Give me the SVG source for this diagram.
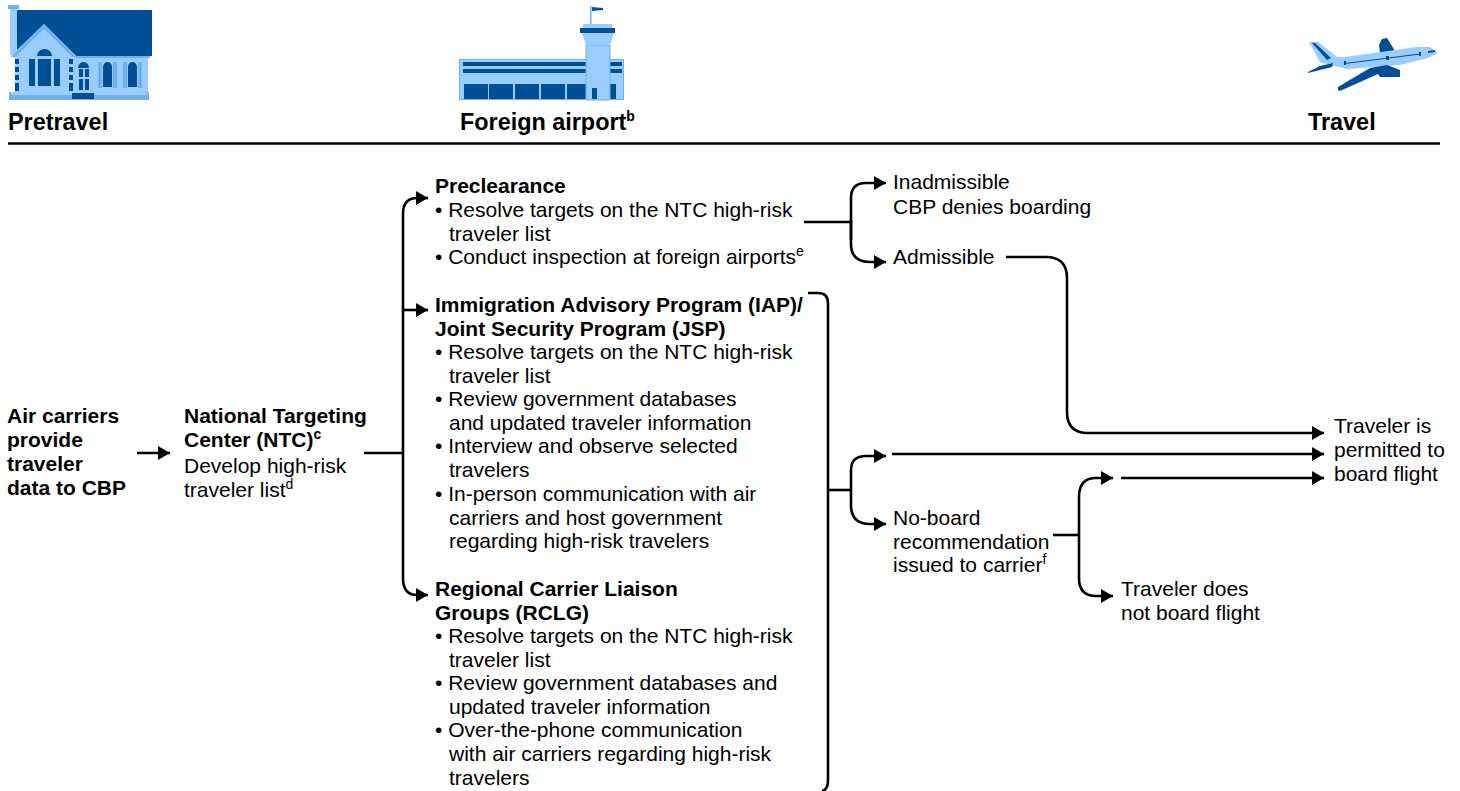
<svg xmlns="http://www.w3.org/2000/svg" width="1460" height="791" viewBox="0 0 1460 791">
<style>
text{font-family:"Liberation Sans",Arial,sans-serif;font-size:21px;fill:#000}
.b{font-weight:bold}
.h{font-weight:bold;font-size:23.4px}
.s{font-size:14px}
.c{fill:none;stroke:#000;stroke-width:2.6}
.l{fill:#99ccff}
.o{fill:#6fb1ee}
.d{fill:#004f96}
</style>
<defs><marker id="a" markerUnits="userSpaceOnUse" markerWidth="14" markerHeight="14" refX="12" refY="7" orient="auto"><path d="M0 0L12 7L0 14Z" fill="#000"/></marker></defs>
<rect width="1460" height="791" fill="#fff"/>
<g id="house">
<rect class="l" x="10" y="9" width="7" height="46"/><rect class="o" x="8" y="5" width="11" height="4"/>
<path class="d" d="M17 10H152V56H76L44 25L17 50Z"/>
<rect class="l" x="72" y="58" width="76" height="35"/>
<rect class="o" x="74" y="56" width="76" height="2"/>
<path class="l" d="M11 56L44 24L76 56L72 58V92H15V58Z"/>
<path class="o" d="M11 57L44 24L76 57H72L44 29L15 57Z"/>
<rect class="o" x="9" y="92" width="140" height="8"/><rect class="l" x="11" y="92" width="136" height="3"/>
<rect class="d" x="72" y="93" width="22" height="6"/>
<path class="d" d="M15 59h4v5h-4zM15 67h4v5h-4zM15 75h4v5h-4zM15 83h4v8h-4zM69 59h4v5h-4zM69 67h4v5h-4zM69 75h4v5h-4zM69 83h4v8h-4z"/>
<path class="d" d="M29 59h6v27h-6zM38 59h13v27h-13zM54 59h6v27h-6zM37 56a7.500 7 0 0 1 15 0z"/>
<path class="d" d="M78 68a5.500 6 0 0 1 11 0z"/><path class="d" d="M79 69h4v8h-4zM85 69h4v8h-4zM79 79h4v11h-4zM85 79h4v11h-4z"/>
<path class="d" d="M103 87V67a4.500 5 0 0 1 9 0v20zM128 87V67a4.500 5 0 0 1 9 0v20z"/>
<path class="o" d="M98 62h4v26h-4zM113 62h4v26h-4zM123 62h4v26h-4zM138 62h4v26h-4z"/>
</g>
<g id="airport">
<rect class="l" x="459.500" y="59.500" width="164" height="40" stroke="#6fb1ee"/>
<rect class="d" x="463" y="62" width="159" height="4"/><rect class="d" x="463" y="69" width="159" height="4"/>
<path class="d" d="M464 84h24v15h-24zM489 84h24v15h-24zM515 84h24v15h-24zM541 84h24v15h-24zM567 84h20v15h-20zM610 84h6v15h-6z"/>
<path class="l" stroke="#6fb1ee" d="M586 45h24v55h-24z"/>
<path class="l" d="M582 33l4 12h24l4-12zM583 24h29v5h-29z"/>
<path class="d" d="M580 28h35v5h-35z"/><rect class="d" x="592" y="88" width="5" height="11"/>
<rect class="o" x="590" y="6" width="1.500" height="18"/><path class="d" d="M592 7l11 1v2l-11 1z"/>
</g>
<g id="plane">
<path class="d" d="M1379 45l3-6 5-1 8 13-15 2z"/>
<path class="l" d="M1309 42h9l19 15 8 0 72-10h13l8 6-10 5-28 7-53 4-17-4-10-3z"/>
<path class="d" d="M1312 43h3l16 15-4 2z"/>
<path class="d" d="M1308 72l12-6 13-3-1 4-24 6z"/>
<path class="d" d="M1338 90v-3l32-19 17-3 13 5v7h-20l-2-3-38 17z"/>
<path stroke="#004f96" fill="none" d="M1345 63.500l75-9.500"/>
<path class="d" d="M1344 61h2v4h-2zM1386 56h3v4h-3zM1419 52h2v4h-2zM1428 51l7-1v2l-7 1z"/>
</g>
<path d="M8 143.500H1440" stroke="#000" stroke-width="2.600" fill="none"/>
<g id="headers">
<text class="h" x="8" y="130">Pretravel</text>
<text class="h" x="460" y="130">Foreign airport<tspan class="s" font-weight="bold" dy="-9">b</tspan></text>
<text class="h" x="1308" y="130">Travel</text>
</g>
<g id="connectors">
<path class="c" marker-end="url(#a)" d="M137 453H170"/>
<path class="c" d="M364 453H403"/>
<path class="c" marker-end="url(#a)" d="M403 578V214Q403 198 417 198H428"/>
<path class="c" marker-end="url(#a)" d="M403 310H428"/>
<path class="c" marker-end="url(#a)" d="M403 578Q403 595 417 595H428"/>
<path class="c" d="M804 222H851"/>
<path class="c" marker-end="url(#a)" d="M851 240V198Q851 183 866 183H886"/>
<path class="c" marker-end="url(#a)" d="M851 220V244Q851 262 870 262H886"/>
<path class="c" marker-end="url(#a)" d="M1006 257H1046Q1067 257 1067 278V412Q1067 433 1088 433H1324"/>
<path class="c" d="M808 293H818Q828 293 828 303V780Q828 790 822 791"/>
<path class="c" d="M828 490H851"/>
<path class="c" marker-end="url(#a)" d="M851 490V470Q851 456 866 456H886"/>
<path class="c" marker-end="url(#a)" d="M851 490V505Q851 524 870 524H886"/>
<path class="c" marker-end="url(#a)" d="M892 454H1324"/>
<path class="c" d="M1053 535H1079"/>
<path class="c" marker-end="url(#a)" d="M1079 535V497Q1079 478 1096 478H1113"/>
<path class="c" marker-end="url(#a)" d="M1079 535V578Q1079 596 1096 596H1113"/>
<path class="c" marker-end="url(#a)" d="M1121 478H1324"/>
</g>
<g id="n1"><text class="b" x="7" y="423">Air carriers</text><text class="b" x="7" y="447">provide</text><text class="b" x="7" y="471">traveler</text><text class="b" x="7" y="495">data to CBP</text></g>
<g id="n2"><text class="b" x="184" y="423">National Targeting</text><text class="b" x="184" y="447">Center (NTC)<tspan class="s" dy="-8">c</tspan></text><text x="184" y="473">Develop high-risk</text><text x="184" y="497">traveler list<tspan class="s" dy="-8">d</tspan></text></g>
<g id="n3"><text class="b" x="435" y="193">Preclearance</text><text x="435" y="217">• Resolve targets on the NTC high-risk</text><text x="449" y="241">traveler list</text><text x="435" y="264">• Conduct inspection at foreign airports<tspan class="s" dy="-8">e</tspan></text></g>
<g id="n4"><text class="b" x="435" y="312">Immigration Advisory Program (IAP)/</text><text class="b" x="435" y="336">Joint Security Program (JSP)</text><text x="435" y="359">• Resolve targets on the NTC high-risk</text><text x="449" y="383">traveler list</text><text x="435" y="406">• Review government databases</text><text x="449" y="430">and updated traveler information</text><text x="435" y="453">• Interview and observe selected</text><text x="449" y="477">travelers</text><text x="435" y="501">• In-person communication with air</text><text x="449" y="525">carriers and host government</text><text x="449" y="548">regarding high-risk travelers</text></g>
<g id="n5"><text class="b" x="435" y="596">Regional Carrier Liaison</text><text class="b" x="435" y="620">Groups (RCLG)</text><text x="435" y="643">• Resolve targets on the NTC high-risk</text><text x="449" y="667">traveler list</text><text x="435" y="690">• Review government databases and</text><text x="449" y="714">updated traveler information</text><text x="435" y="737">• Over-the-phone communication</text><text x="449" y="761">with air carriers regarding high-risk</text><text x="449" y="785">travelers</text></g>
<g id="n6"><text x="893" y="189">Inadmissible</text><text x="893" y="214">CBP denies boarding</text></g>
<g id="n7"><text x="893" y="264">Admissible</text></g>
<g id="n8"><text x="893" y="525">No-board</text><text x="893" y="549">recommendation</text><text x="893" y="572">issued to carrier<tspan class="s" dy="-8">f</tspan></text></g>
<g id="n9"><text x="1121" y="596">Traveler does</text><text x="1121" y="620">not board flight</text></g>
<g id="n10"><text x="1334" y="433">Traveler is</text><text x="1334" y="457">permitted to</text><text x="1334" y="481">board flight</text></g>
</svg>
